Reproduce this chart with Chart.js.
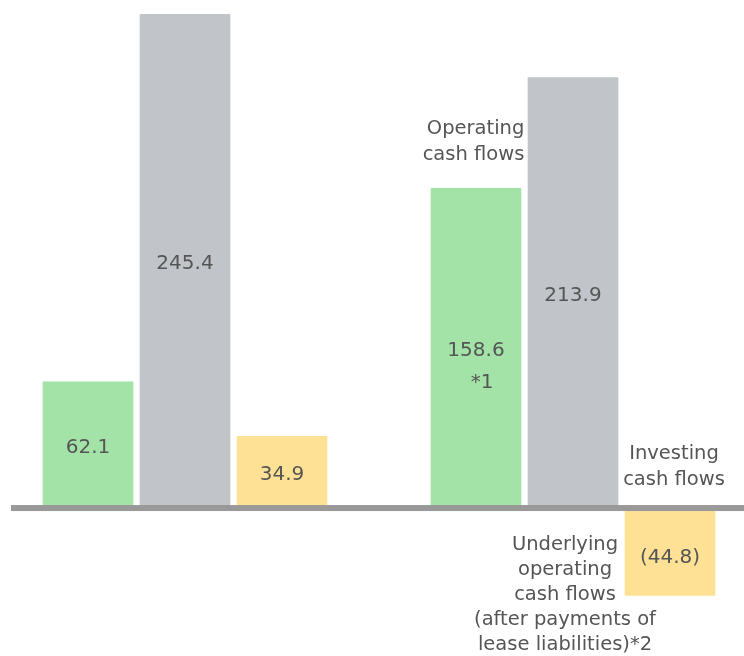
<!DOCTYPE html>
<html>
<head>
<meta charset="utf-8">
<script src="https://cdn.jsdelivr.net/npm/chart.js@4.4.0/dist/chart.umd.min.js"></script>
<style>
  html, body { margin: 0; padding: 0; background: #fff; }
  #wrap { width: 744px; height: 656px; position: relative; }
</style>
</head>
<body>
<div id="wrap"><canvas id="cashChart"></canvas></div>
<script>
// 数据
const periods = ['Previous year', 'Current year'];
const operatingCF = [62.1, 158.6];
const underlyingCF = [245.4, 213.9];
const investingCF = [34.9, -44.8];
const valueNotes = [['', '', ''], ['*1', '', '']];

const colors = ['#a3e3a8', '#c1c5c9', '#ffe196'];
const textColor = '#555';
const font = "'DejaVu Sans', Verdana, sans-serif";

// 每期三根柱子，中间空一格
const slotLabels = [];
const slotValues = [];
const slotColors = [];
const slotNotes = [];
periods.forEach((p, i) => {
  if (i > 0) {
    slotLabels.push('');
    slotValues.push(null);
    slotColors.push('transparent');
    slotNotes.push('');
  }
  [operatingCF[i], underlyingCF[i], investingCF[i]].forEach((v, k) => {
    slotLabels.push(p + ' ' + k);
    slotValues.push(v);
    slotColors.push(colors[k]);
    slotNotes.push(valueNotes[i][k]);
  });
});

function fmt(v) {
  return v < 0 ? '(' + Math.abs(v).toFixed(1) + ')' : v.toFixed(1);
}

function drawLines(ctx, lines, x, y, step, align) {
  ctx.textAlign = align;
  lines.forEach((t, i) => ctx.fillText(t, x, y + i * step));
}

const labelPlugin = {
  id: 'labels',
  afterDatasetsDraw(chart) {
    const ctx = chart.ctx;
    const y0 = chart.scales.y.getPixelForValue(0);
    const bars = chart.getDatasetMeta(0).data;

    // 零线
    ctx.save();
    ctx.fillStyle = '#999';
    ctx.fillRect(11, y0 - 1, chart.width - 11, 6);

    ctx.fillStyle = textColor;
    ctx.font = '20px ' + font;
    ctx.textBaseline = 'middle';
    ctx.textAlign = 'center';
    bars.forEach((bar, i) => {
      const v = slotValues[i];
      if (v === null) return;
      const top = Math.min(bar.y, bar.base);
      const bottom = Math.max(bar.y, bar.base);
      const cy = (top + bottom) / 2 + 4 + (v < 0 ? 3 : 0);
      ctx.fillText(fmt(v), bar.x, cy);
      if (slotNotes[i]) ctx.fillText(slotNotes[i], bar.x + 6, cy + 32);
    });

    // 说明文字（第二期）
    const g = bars[4], s = bars[5], y = bars[6];
    ctx.font = '19.5px ' + font;
    drawLines(ctx, ['Operating', 'cash flows'], g.x + g.width / 2 + 3, g.y - 59, 26, 'right');
    drawLines(ctx, ['Investing', 'cash flows'], y.x + 4, y0 - 52, 26, 'center');
    drawLines(ctx, ['Underlying', 'operating', 'cash flows', '(after payments of', 'lease liabilities)*2'],
      s.x - 8, y0 + 39, 25, 'center');
    ctx.restore();
  }
};

new Chart(document.getElementById('cashChart'), {
  type: 'bar',
  data: {
    labels: slotLabels,
    datasets: [{
      data: slotValues,
      backgroundColor: slotColors,
      borderWidth: 0,
      borderRadius: 1,
      borderSkipped: 'start',
      barPercentage: 0.935,
      categoryPercentage: 1
    }]
  },
  options: {
    responsive: true,
    maintainAspectRatio: false,
    animation: false,
    layout: { padding: { left: 39.5, right: 25.5, top: 0, bottom: 0 } },
    plugins: { legend: { display: false }, tooltip: { enabled: false } },
    scales: {
      x: { display: false },
      y: { display: false, min: -74.8, max: 252.4 }
    }
  },
  plugins: [labelPlugin]
});
</script>
</body>
</html>
